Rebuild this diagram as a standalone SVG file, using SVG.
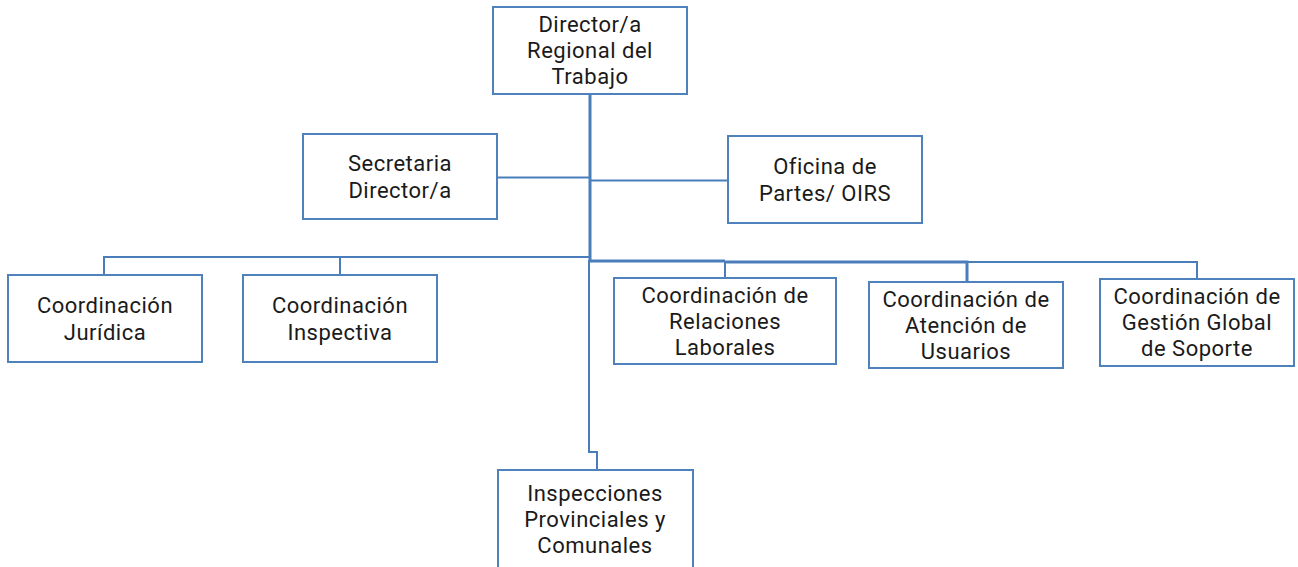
<svg xmlns="http://www.w3.org/2000/svg" width="1298" height="567" viewBox="0 0 1298 567">
<style>
.box{fill:#ffffff;stroke:#4F81BD;stroke-width:2}
.ln{fill:none;stroke:#4A7EBB;stroke-width:2}
.thick{fill:none;stroke:#4A7EBB;stroke-width:3}
text{font-family:Roboto,"Open Sans","Liberation Sans",sans-serif;font-size:22px;letter-spacing:0.5px;fill:#1a1a1a;text-anchor:middle;dominant-baseline:central}
</style>
<rect width="1298" height="567" fill="#ffffff"/>
<g id="connectors">
<path class="ln" d="M497 177.5 H590"/>
<path class="ln" d="M590 180.5 H728"/>
<path class="ln" d="M104 275 V257 H590"/>
<path class="ln" d="M340 257 V275"/>
<path class="ln" d="M589 260 V452 H597 V470"/>
<path class="thick" d="M590 94 V261 H725"/>
<path class="ln" d="M725 261 V278"/>
<path class="thick" d="M725 262 H967 V282"/>
<path class="ln" d="M967 262 H1197 V279"/>
</g>
<g id="director">
<rect class="box" x="493" y="7" width="194" height="87"/>
<text x="590" y="24">Director/a</text>
<text x="590" y="50">Regional del</text>
<text x="590" y="76">Trabajo</text>
</g>
<g id="secretaria">
<rect class="box" x="303" y="134" width="194" height="85"/>
<text x="400" y="163">Secretaria</text>
<text x="400" y="190">Director/a</text>
</g>
<g id="oficina">
<rect class="box" x="728" y="136" width="194" height="87"/>
<text x="825" y="166">Oficina de</text>
<text x="825" y="193">Partes/ OIRS</text>
</g>
<g id="juridica">
<rect class="box" x="8" y="275" width="194" height="87"/>
<text x="105" y="305">Coordinación</text>
<text x="105" y="332">Jurídica</text>
</g>
<g id="inspectiva">
<rect class="box" x="243" y="275" width="194" height="87"/>
<text x="340" y="305">Coordinación</text>
<text x="340" y="332">Inspectiva</text>
</g>
<g id="relaciones">
<rect class="box" x="614" y="278" width="222" height="86"/>
<text x="725" y="295">Coordinación de</text>
<text x="725" y="321">Relaciones</text>
<text x="725" y="347">Laborales</text>
</g>
<g id="atencion">
<rect class="box" x="869" y="282" width="194" height="86"/>
<text x="966" y="299">Coordinación de</text>
<text x="966" y="325">Atención de</text>
<text x="966" y="351">Usuarios</text>
</g>
<g id="gestion">
<rect class="box" x="1100" y="279" width="194" height="87"/>
<text x="1197" y="296">Coordinación de</text>
<text x="1197" y="322">Gestión Global</text>
<text x="1197" y="348">de Soporte</text>
</g>
<g id="inspecciones">
<rect class="box" x="498" y="470" width="195" height="110"/>
<text x="595" y="493">Inspecciones</text>
<text x="595" y="519">Provinciales y</text>
<text x="595" y="545">Comunales</text>
</g>
</svg>
